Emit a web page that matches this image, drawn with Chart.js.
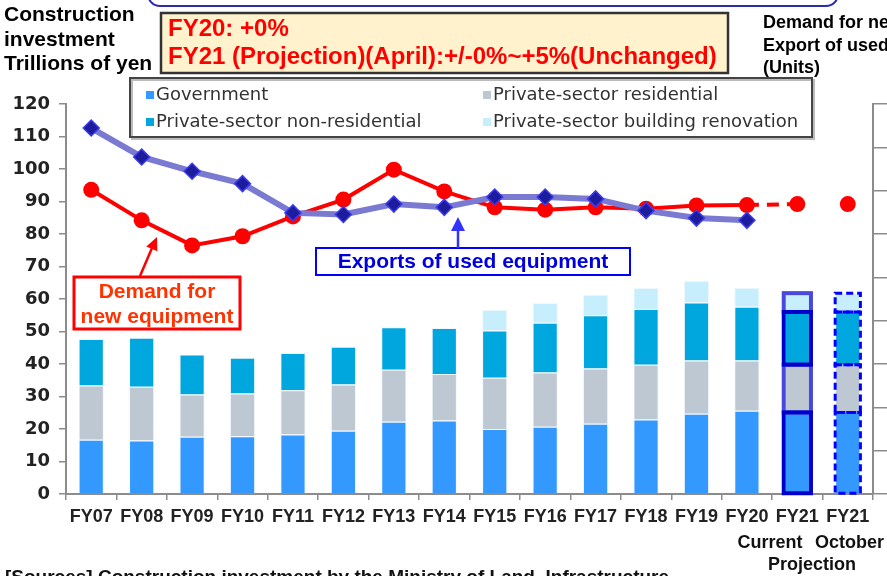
<!DOCTYPE html>
<html>
<head>
<meta charset="utf-8">
<script src="https://cdn.jsdelivr.net/npm/chart.js@4/dist/chart.umd.min.js"></script>
<style>
html,body{margin:0;padding:0;background:#fff;}
canvas{display:block;}
</style>
</head>
<body>
<canvas id="c" width="887" height="576"></canvas>
<script>
// ---- data ----
const categories = ['FY07','FY08','FY09','FY10','FY11','FY12','FY13','FY14','FY15','FY16','FY17','FY18','FY19','FY20','FY21','FY21'];
const government     = [16.7,16.5,17.6,17.8,18.3,19.5,22.2,22.6,20.0,20.7,21.6,22.9,24.7,25.6,25.1,25.1];
const residential    = [16.7,16.5,13.0,13.1,13.6,14.2,16.0,14.3,15.8,16.7,17.0,16.9,16.4,15.5,14.7,14.7];
const nonResidential = [14.3,15.1,12.3,11.0,11.5,11.6,13.1,14.2,14.5,15.3,16.4,17.1,17.8,16.5,16.2,16.2];
const renovation     = [null,null,null,null,null,null,null,null,6.4,6.1,6.3,6.5,6.7,5.9,5.8,5.8];
const demandNew      = [93.6,84.2,76.5,79.3,85.4,90.6,99.8,93.1,88.2,87.5,88.2,87.8,88.8,88.9,89.2,89.2];
const exportsUsed    = [112.6,103.7,99.3,95.5,86.5,86.0,89.2,88.2,91.4,91.4,90.8,87.2,84.9,84.2,null,null];
const seriesNames = ['Government','Private-sector residential','Private-sector non-residential','Private-sector building renovation'];
const yTicks = [0,10,20,30,40,50,60,70,80,90,100,110,120];

const BOLD = '"Liberation Sans", Arial, sans-serif';
const DEJA = '"DejaVu Sans", sans-serif';

const overlay = {
  id: 'overlay',
  afterDatasetsDraw(chart) {
    const ctx = chart.ctx;
    const barMetas = chart.getSortedVisibleDatasetMetas().filter(m => m.type === 'bar').sort((a, b) => a.index - b.index);
    ctx.save();
    const curCols = ['#0000cc','#4848dd','#0000cc','#4848dd'];
    [1,3,0,2].forEach(k => {
      const m = barMetas[k];
      if (!m) return;
      const el = m.data[14];
      if (!el) return;
      const {x, y, base, width} = el.getProps(['x','y','base','width'], true);
      if (y == null || isNaN(y)) return;
      ctx.strokeStyle = curCols[k];
      ctx.lineWidth = 4;
      ctx.setLineDash([]);
      ctx.strokeRect(x - width/2 - 1, Math.min(y, base), width + 2, Math.abs(base - y));
    });
    [0,1,2,3].forEach(k => {
      const m = barMetas[k];
      if (!m) return;
      const el = m.data[15];
      if (!el) return;
      const {x, y, base, width} = el.getProps(['x','y','base','width'], true);
      if (y == null || isNaN(y)) return;
      ctx.strokeStyle = '#0000ff';
      ctx.lineWidth = 3;
      ctx.setLineDash([7,4]);
      ctx.strokeRect(x - width/2, Math.min(y, base), width, Math.abs(base - y));
    });
    ctx.restore();
  },
  afterDraw(chart) {
    const ctx = chart.ctx;
    ctx.save();
    ctx.setLineDash([]);
    // top rounded frame (bottom part of a box above)
    ctx.strokeStyle = '#2b2bb0';
    ctx.lineWidth = 2;
    ctx.beginPath();
    ctx.moveTo(148, -20);
    ctx.lineTo(148, -6);
    ctx.arcTo(148, 6, 160, 6, 12);
    ctx.lineTo(826, 6);
    ctx.arcTo(838, 6, 838, -6, 12);
    ctx.lineTo(838, -20);
    ctx.stroke();

    // left title
    ctx.fillStyle = '#000';
    ctx.textBaseline = 'middle';
    ctx.textAlign = 'left';
    ctx.font = 'bold 21px ' + BOLD;
    ctx.fillText('Construction', 4, 15);
    ctx.fillText('investment', 4, 40);
    ctx.fillText('Trillions of yen', 4, 64);

    // right title (cut off by page edge)
    ctx.font = 'bold 18px ' + BOLD;
    ctx.fillText('Demand for new equipment', 763, 23);
    ctx.fillText('Export of used equipment', 763, 46);
    ctx.fillText('(Units)', 763, 68);

    // growth box
    ctx.fillStyle = '#fff2cc';
    ctx.fillRect(161, 13, 567, 60);
    ctx.strokeStyle = '#333';
    ctx.lineWidth = 2.5;
    ctx.strokeRect(161, 13, 567, 60);
    ctx.fillStyle = '#ff0000';
    ctx.font = 'bold 24px ' + BOLD;
    ctx.fillText('FY20: +0%', 168, 29);
    ctx.fillText('FY21 (Projection)(April):+/-0%~+5%(Unchanged)', 168, 57);

    // legend box
    ctx.fillStyle = '#fff';
    ctx.fillRect(130, 78, 682, 59);
    ctx.strokeStyle = '#bbb';
    ctx.lineWidth = 2;
    ctx.strokeRect(132, 80, 682, 59);
    ctx.strokeStyle = '#444';
    ctx.lineWidth = 2;
    ctx.strokeRect(130, 78, 682, 59);
    const ds = chart.data.datasets.filter(d => d.type !== 'line');
    const pos = [[146,95],[483,95],[146,122],[483,122]];
    ds.forEach((d, i) => {
      const [px, py] = pos[i];
      ctx.fillStyle = d.backgroundColor;
      ctx.fillRect(px, py - 4, 8, 8);
      ctx.fillStyle = '#333';
      ctx.font = '18px ' + DEJA;
      ctx.textBaseline = 'middle';
      ctx.fillText(d.label, px + 10, py);
    });

    // "Exports of used equipment" annotation
    ctx.strokeStyle = '#0000ff';
    ctx.lineWidth = 2;
    ctx.fillStyle = '#fff';
    ctx.fillRect(316, 248, 314, 27);
    ctx.strokeRect(316, 248, 314, 27);
    ctx.fillStyle = '#0000dd';
    ctx.font = 'bold 21px ' + BOLD;
    ctx.textAlign = 'center';
    ctx.fillText('Exports of used equipment', 473, 262);
    // blue arrow
    ctx.strokeStyle = '#3333ff';
    ctx.fillStyle = '#3333ff';
    ctx.lineWidth = 2.5;
    ctx.beginPath();
    ctx.moveTo(458, 248); ctx.lineTo(458, 230); ctx.stroke();
    ctx.beginPath();
    ctx.moveTo(458, 217); ctx.lineTo(451, 231); ctx.lineTo(465, 231); ctx.closePath(); ctx.fill();

    // "Demand for new equipment" annotation
    ctx.fillStyle = '#fff';
    ctx.fillRect(74, 277, 166, 52);
    ctx.strokeStyle = '#ff0000';
    ctx.lineWidth = 3;
    ctx.strokeRect(74, 277, 166, 52);
    ctx.fillStyle = '#ff3300';
    ctx.font = 'bold 21px ' + BOLD;
    ctx.fillText('Demand for', 157, 292);
    ctx.fillText('new equipment', 157, 317);
    // red arrow
    ctx.strokeStyle = '#ff0000';
    ctx.fillStyle = '#ff0000';
    ctx.lineWidth = 2.5;
    ctx.beginPath();
    ctx.moveTo(140, 276); ctx.lineTo(152, 248); ctx.stroke();
    const ang = Math.atan2(237 - 276, 157 - 140);
    ctx.beginPath();
    ctx.moveTo(157, 237);
    ctx.lineTo(157 - 13*Math.cos(ang) + 6*Math.sin(ang), 237 - 13*Math.sin(ang) - 6*Math.cos(ang));
    ctx.lineTo(157 - 13*Math.cos(ang) - 6*Math.sin(ang), 237 - 13*Math.sin(ang) + 6*Math.cos(ang));
    ctx.closePath(); ctx.fill();

    // under-axis texts
    ctx.fillStyle = '#111';
    ctx.font = 'bold 18px ' + BOLD;
    ctx.textAlign = 'center';
    ctx.fillText('Current', 770, 543);
    ctx.textAlign = 'left';
    ctx.fillText('October', 815, 543);
    ctx.textAlign = 'center';
    ctx.fillText('Projection', 812, 565);
    ctx.textAlign = 'left';
    ctx.textBaseline = 'top';
    ctx.font = 'bold 19px ' + BOLD;
    ctx.fillText('[Sources] Construction investment by the Ministry of Land, Infrastructure', 5, 568);
    ctx.restore();
  }
};

const barBorder = 'rgba(235,245,255,0.8)';
new Chart(document.getElementById('c'), {
  type: 'bar',
  data: {
    labels: categories,
    datasets: [
      {
        type: 'line', label: 'Exports of used equipment', data: exportsUsed, order: -2, stack: 'exp',
        borderColor: '#7a7ad2', borderWidth: 6, tension: 0,
        pointStyle: 'rectRot', pointRadius: 8, pointBackgroundColor: '#1c1c9c', pointBorderColor: '#3b3bee', pointBorderWidth: 1.5,
        spanGaps: false
      },
      {
        type: 'line', label: 'Demand for new equipment', data: demandNew, order: -1, stack: 'dem',
        borderColor: '#ff0000', borderWidth: 4, tension: 0,
        pointStyle: 'circle', pointRadius: 8, pointBackgroundColor: '#ff0000', pointBorderWidth: 0,
        segment: {
          borderDash: c => c.p0DataIndex === 13 ? [12, 8] : undefined,
          borderColor: c => c.p0DataIndex === 14 ? 'rgba(0,0,0,0)' : undefined
        }
      },
      { label: seriesNames[0], data: government, backgroundColor: '#3399ff', borderColor: barBorder, borderWidth: 1, stack: 'bars', barPercentage: 0.5, categoryPercentage: 1 },
      { label: seriesNames[1], data: residential, backgroundColor: '#bdc8d3', borderColor: barBorder, borderWidth: 1, stack: 'bars', barPercentage: 0.5, categoryPercentage: 1 },
      { label: seriesNames[2], data: nonResidential, backgroundColor: '#00a7df', borderColor: barBorder, borderWidth: 1, stack: 'bars', barPercentage: 0.5, categoryPercentage: 1 },
      { label: seriesNames[3], data: renovation, backgroundColor: '#c6eefc', borderColor: barBorder, borderWidth: 1, stack: 'bars', barPercentage: 0.5, categoryPercentage: 1 }
    ]
  },
  options: {
    responsive: false,
    animation: false,
    layout: { padding: { top: 104, left: 0, right: 0, bottom: 0 } },
    plugins: { legend: { display: false }, tooltip: { enabled: false }, title: { display: false } },
    scales: {
      x: {
        stacked: true,
        offset: true,
        grid: { display: true, drawOnChartArea: false, offset: true, tickLength: 6, color: '#8c8c8c', lineWidth: 1.5 },
        border: { display: true, color: '#8c8c8c', width: 2 },
        ticks: { color: '#222', font: { family: BOLD, weight: 'bold', size: 18 }, padding: 6, maxRotation: 0, autoSkip: false },
        afterFit: s => { s.height = 82; }
      },
      y: {
        stacked: true,
        min: 0, max: 120,
        afterBuildTicks: s => { s.ticks = yTicks.map(v => ({ value: v })); },
        grid: { display: true, drawOnChartArea: false, tickLength: 7, color: '#8c8c8c', lineWidth: 1.5 },
        border: { display: true, color: '#8c8c8c', width: 2 },
        ticks: { color: '#222', font: { family: DEJA, weight: 'bold', size: 18 }, padding: 9 },
        afterFit: s => { s.width = 66; }
      },
      yR: {
        position: 'right',
        min: 0, max: 9,
        ticks: { display: false, stepSize: 1 },
        grid: { display: true, drawOnChartArea: false, tickLength: 14, color: '#8c8c8c', lineWidth: 1.5 },
        border: { display: true, color: '#8c8c8c', width: 2 },
        afterFit: s => { s.width = 14; }
      }
    }
  },
  plugins: [overlay]
});
</script>
</body>
</html>
